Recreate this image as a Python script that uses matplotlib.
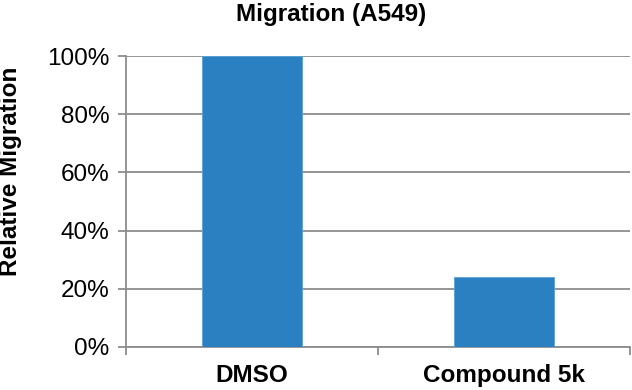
import matplotlib
matplotlib.use('Agg')
import matplotlib.pyplot as plt
from matplotlib.ticker import PercentFormatter

categories = ['DMSO', 'Compound 5k']
migration = [1.00, 0.24]
yticks = [0, 0.2, 0.4, 0.6, 0.8, 1.0]

plt.rcParams['font.family'] = ['Liberation Sans', 'DejaVu Sans']

fig = plt.figure(figsize=(6.32, 3.9), dpi=100)
ax = fig.add_axes([0.1994, 0.1103, 0.7974, 0.7461])

x = list(range(len(categories)))
ax.bar(x, migration, width=0.4, color='#2A80C0', edgecolor='#5AA3D8', linewidth=0.6, zorder=3)

ax.set_xlim(-0.5, len(categories) - 0.5)
ax.set_ylim(0, 1.0)
ax.set_yticks(yticks)
ax.yaxis.set_major_formatter(PercentFormatter(1.0, decimals=0))
ax.grid(axis='y', color='#8c8c8c', linewidth=1.3, zorder=0)

# category boundaries get the tick marks, names sit between them
ax.set_xticks([-0.5, 0.5, 1.5])
ax.set_xticklabels([])
ax.set_xticks(x, minor=True)
ax.set_xticklabels(categories, minor=True, fontsize=17.5, fontweight='bold')
ax.tick_params(axis='x', which='minor', length=0, pad=12)
ax.tick_params(axis='x', which='major', length=6, width=1.3, color='#8c8c8c', direction='out')
ax.tick_params(axis='y', length=6, width=1.3, color='#8c8c8c', labelsize=17.5, pad=6)

for side in ['top', 'right']:
    ax.spines[side].set_visible(False)
for side in ['left', 'bottom']:
    ax.spines[side].set_color('#8c8c8c')
    ax.spines[side].set_linewidth(1.3)

fig.text(11 / 632, 1 - 171 / 390, 'Relative Migration', rotation=90, ha='center', va='center',
         fontsize=17.5, fontweight='bold')
fig.text(331 / 632, 1 - 14 / 390, 'Migration (A549)', ha='center', va='center', fontsize=17.5, fontweight='bold')

fig.savefig('out.png', dpi=100)
